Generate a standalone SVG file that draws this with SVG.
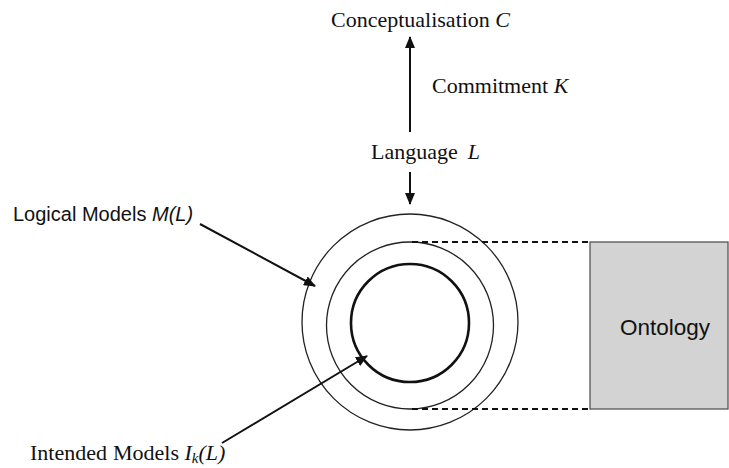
<svg xmlns="http://www.w3.org/2000/svg" width="729" height="468" viewBox="0 0 729 468">
  <style>
    .serif { font-family: "Liberation Serif", "Times New Roman", serif; font-size: 22px; fill: #111; }
    .sans { font-family: "Liberation Sans", Arial, sans-serif; fill: #111; }
    .ring { fill: none; stroke: #222; stroke-width: 1.3; }
    .core { fill: none; stroke: #111; stroke-width: 2.6; }
    .arrow { stroke: #111; stroke-width: 2; fill: none; marker-end: url(#head); }
    .dash { stroke: #111; stroke-width: 2; stroke-dasharray: 6 4; fill: none; }
  </style>
  <defs>
    <marker id="head" markerUnits="userSpaceOnUse" markerWidth="12" markerHeight="10" viewBox="0 0 12 10" refX="11" refY="5" orient="auto">
      <path d="M0,0 L12,5 L0,10 Z" fill="#111"/>
    </marker>
  </defs>

  <rect width="729" height="468" fill="#fff"/>

  <g id="conceptualisation">
    <text class="serif" x="331" y="27">Conceptualisation <tspan font-style="italic">C</tspan></text>
  </g>
  <g id="commitment">
    <text class="serif" x="432" y="93">Commitment <tspan font-style="italic">K</tspan></text>
  </g>
  <g id="language">
    <text class="serif" x="371" y="159">Language<tspan dx="10" font-style="italic">L</tspan></text>
  </g>

  <g id="models">
    <circle class="ring" cx="410" cy="322" r="108"/>
    <circle class="ring" cx="410" cy="325.5" r="83.5"/>
    <circle class="core" cx="410" cy="323" r="59"/>
  </g>

  <g id="ontology">
    <rect x="590" y="242" width="138" height="167" fill="#d3d3d3" stroke="#555" stroke-width="1.3"/>
    <text class="sans" x="665" y="335" font-size="22.5" text-anchor="middle">Ontology</text>
  </g>

  <g id="logical-models">
    <text class="sans" x="13" y="221" font-size="20">Logical Models <tspan font-style="italic">M(L)</tspan></text>
  </g>
  <g id="intended-models">
    <text class="serif" x="30" y="460" font-size="21.5">Intended<tspan dx="6">Models</tspan> <tspan font-style="italic">I<tspan font-size="15" dy="3">k</tspan><tspan dy="-3">(L)</tspan></tspan></text>
  </g>

  <g id="connectors">
    <line class="arrow" x1="410" y1="132" x2="410" y2="37"/>
    <line class="arrow" x1="410" y1="172" x2="410" y2="204"/>
    <line class="arrow" x1="200" y1="224" x2="315" y2="286"/>
    <line class="arrow" x1="222" y1="443" x2="367" y2="356"/>
    <line class="dash" x1="412" y1="242" x2="590" y2="242"/>
    <line class="dash" x1="412" y1="409" x2="590" y2="409"/>
  </g>
</svg>
